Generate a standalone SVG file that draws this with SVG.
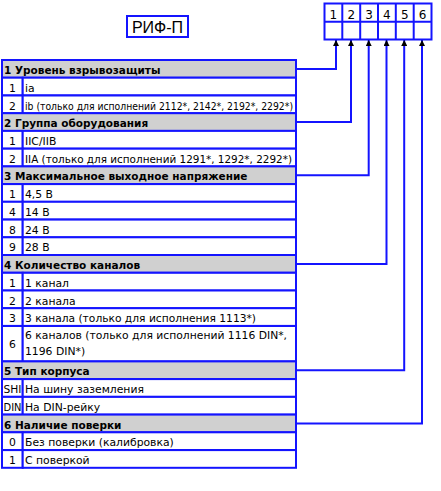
<svg xmlns="http://www.w3.org/2000/svg" width="441" height="491" viewBox="0 0 441 491">
<defs>
<style>
.hdr{fill:#d0d0d0;stroke:#1414ff;stroke-width:2}
.cell{fill:#ffffff;stroke:#1414ff;stroke-width:2}
.box{fill:none;stroke:#1414ff;stroke-width:2}
.con{fill:none;stroke:#1414ff;stroke-width:2}
.h{font-family:"DejaVu Sans",Verdana,sans-serif;font-weight:bold;font-size:10.5px;fill:#000}
.t{font-family:"DejaVu Sans",Verdana,sans-serif;font-size:10.8px;fill:#000}
.n{font-family:"DejaVu Sans",Verdana,sans-serif;font-size:10.8px;fill:#000;text-anchor:middle}
.d{font-family:"DejaVu Sans",Verdana,sans-serif;font-size:12px;fill:#000;text-anchor:middle}
.title{font-family:"Liberation Sans",Arial,sans-serif;font-size:16px;fill:#000;text-anchor:middle}
</style>
<marker id="arr" viewBox="0 0 10 10" refX="10" refY="5" markerUnits="userSpaceOnUse" markerWidth="10" markerHeight="6" orient="auto">
<path d="M0,0 L10,5 L0,10 z" fill="#000"/>
</marker>
</defs>
<rect width="441" height="491" fill="#fff"/>

<g id="title">
<rect x="127" y="16" width="61" height="21" class="box"/>
<text x="157.5" y="32.5" class="title">РИФ-П</text>
</g>

<g id="code-box">
<rect x="324.5" y="3.5" width="107" height="36" class="box"/>
<line x1="324.5" y1="21.7" x2="431.5" y2="21.7" class="box"/>
<line x1="342.3" y1="3.5" x2="342.3" y2="39.5" class="box"/>
<line x1="360.2" y1="3.5" x2="360.2" y2="39.5" class="box"/>
<line x1="378" y1="3.5" x2="378" y2="39.5" class="box"/>
<line x1="395.8" y1="3.5" x2="395.8" y2="39.5" class="box"/>
<line x1="413.7" y1="3.5" x2="413.7" y2="39.5" class="box"/>
<text x="333.4" y="18.5" class="d">1</text>
<text x="351.3" y="18.5" class="d">2</text>
<text x="369.1" y="18.5" class="d">3</text>
<text x="386.9" y="18.5" class="d">4</text>
<text x="404.8" y="18.5" class="d">5</text>
<text x="422.6" y="18.5" class="d">6</text>
</g>

<g id="section1">
<rect x="2" y="60" width="294" height="17.7" class="hdr"/>
<text x="4" y="74" class="h">1 Уровень взрывозащиты</text>
<rect x="2" y="77.7" width="20.7" height="17.7" class="cell"/>
<rect x="22.7" y="77.7" width="273.3" height="17.7" class="cell"/>
<text x="12.5" y="91.7" class="n">1</text>
<text x="25" y="91.7" class="t">ia</text>
<rect x="2" y="95.5" width="20.7" height="17.7" class="cell"/>
<rect x="22.7" y="95.5" width="273.3" height="17.7" class="cell"/>
<text x="12.5" y="109.5" class="n">2</text>
<text x="25" y="109.5" class="t" textLength="268" lengthAdjust="spacingAndGlyphs">ib (только для исполнений 2112*, 2142*, 2192*, 2292*)</text>
</g>

<g id="section2">
<rect x="2" y="113.2" width="294" height="17.7" class="hdr"/>
<text x="4" y="127.2" class="h">2 Группа оборудования</text>
<rect x="2" y="130.9" width="20.7" height="17.7" class="cell"/>
<rect x="22.7" y="130.9" width="273.3" height="17.7" class="cell"/>
<text x="12.5" y="144.9" class="n">1</text>
<text x="25" y="144.9" class="t">IIC/IIB</text>
<rect x="2" y="148.7" width="20.7" height="17.7" class="cell"/>
<rect x="22.7" y="148.7" width="273.3" height="17.7" class="cell"/>
<text x="12.5" y="162.7" class="n">2</text>
<text x="25" y="162.7" class="t" textLength="267" lengthAdjust="spacingAndGlyphs">IIA (только для исполнений 1291*, 1292*, 2292*)</text>
</g>

<g id="section3">
<rect x="2" y="166.4" width="294" height="17.7" class="hdr"/>
<text x="4" y="180.4" class="h">3 Максимальное выходное напряжение</text>
<rect x="2" y="184.1" width="20.7" height="17.7" class="cell"/>
<rect x="22.7" y="184.1" width="273.3" height="17.7" class="cell"/>
<text x="12.5" y="198.1" class="n">1</text>
<text x="25" y="198.1" class="t">4,5 В</text>
<rect x="2" y="201.8" width="20.7" height="17.7" class="cell"/>
<rect x="22.7" y="201.8" width="273.3" height="17.7" class="cell"/>
<text x="12.5" y="215.8" class="n">4</text>
<text x="25" y="215.8" class="t">14 В</text>
<rect x="2" y="219.6" width="20.7" height="17.7" class="cell"/>
<rect x="22.7" y="219.6" width="273.3" height="17.7" class="cell"/>
<text x="12.5" y="233.6" class="n">8</text>
<text x="25" y="233.6" class="t">24 В</text>
<rect x="2" y="237.3" width="20.7" height="17.7" class="cell"/>
<rect x="22.7" y="237.3" width="273.3" height="17.7" class="cell"/>
<text x="12.5" y="251.3" class="n">9</text>
<text x="25" y="251.3" class="t">28 В</text>
</g>

<g id="section4">
<rect x="2" y="255" width="294" height="17.7" class="hdr"/>
<text x="4" y="269" class="h">4 Количество каналов</text>
<rect x="2" y="272.8" width="20.7" height="17.7" class="cell"/>
<rect x="22.7" y="272.8" width="273.3" height="17.7" class="cell"/>
<text x="12.5" y="286.8" class="n">1</text>
<text x="25" y="286.8" class="t">1 канал</text>
<rect x="2" y="290.5" width="20.7" height="17.7" class="cell"/>
<rect x="22.7" y="290.5" width="273.3" height="17.7" class="cell"/>
<text x="12.5" y="304.5" class="n">2</text>
<text x="25" y="304.5" class="t">2 канала</text>
<rect x="2" y="308.2" width="20.7" height="17.7" class="cell"/>
<rect x="22.7" y="308.2" width="273.3" height="17.7" class="cell"/>
<text x="12.5" y="322.2" class="n">3</text>
<text x="25" y="322.2" class="t" textLength="231" lengthAdjust="spacingAndGlyphs">3 канала (только для исполнения 1113*)</text>
<rect x="2" y="326" width="20.7" height="35.4" class="cell"/>
<rect x="22.7" y="326" width="273.3" height="35.4" class="cell"/>
<text x="12.5" y="347.5" class="n">6</text>
<text x="25" y="339" class="t" textLength="262" lengthAdjust="spacingAndGlyphs">6 каналов (только для исполнений 1116 DIN*,</text>
<text x="25" y="355" class="t">1196 DIN*)</text>
</g>

<g id="section5">
<rect x="2" y="361.4" width="294" height="17.7" class="hdr"/>
<text x="4" y="375.4" class="h">5 Тип корпуса</text>
<rect x="2" y="379.1" width="20.7" height="17.7" class="cell"/>
<rect x="22.7" y="379.1" width="273.3" height="17.7" class="cell"/>
<text x="12.5" y="393.1" class="n" textLength="18" lengthAdjust="spacingAndGlyphs">SHI</text>
<text x="25" y="393.1" class="t">На шину заземления</text>
<rect x="2" y="396.9" width="20.7" height="17.7" class="cell"/>
<rect x="22.7" y="396.9" width="273.3" height="17.7" class="cell"/>
<text x="12.5" y="410.9" class="n" textLength="18" lengthAdjust="spacingAndGlyphs">DIN</text>
<text x="25" y="410.9" class="t">На DIN-рейку</text>
</g>

<g id="section6">
<rect x="2" y="414.6" width="294" height="17.7" class="hdr"/>
<text x="4" y="428.6" class="h">6 Наличие поверки</text>
<rect x="2" y="432.3" width="20.7" height="17.7" class="cell"/>
<rect x="22.7" y="432.3" width="273.3" height="17.7" class="cell"/>
<text x="12.5" y="446.3" class="n">0</text>
<text x="25" y="446.3" class="t">Без поверки (калибровка)</text>
<rect x="2" y="450.1" width="20.7" height="17.7" class="cell"/>
<rect x="22.7" y="450.1" width="273.3" height="17.7" class="cell"/>
<text x="12.5" y="464.1" class="n">1</text>
<text x="25" y="464.1" class="t">С поверкой</text>
</g>

<g id="connectors">
<path d="M297,68.9 H336 V40" class="con" marker-end="url(#arr)"/>
<path d="M297,122.1 H351 V40" class="con" marker-end="url(#arr)"/>
<path d="M297,175.3 H368.7 V40" class="con" marker-end="url(#arr)"/>
<path d="M297,263.9 H386.5 V40" class="con" marker-end="url(#arr)"/>
<path d="M297,370.3 H404.2 V40" class="con" marker-end="url(#arr)"/>
<path d="M297,423.5 H422 V40" class="con" marker-end="url(#arr)"/>
</g>
</svg>
